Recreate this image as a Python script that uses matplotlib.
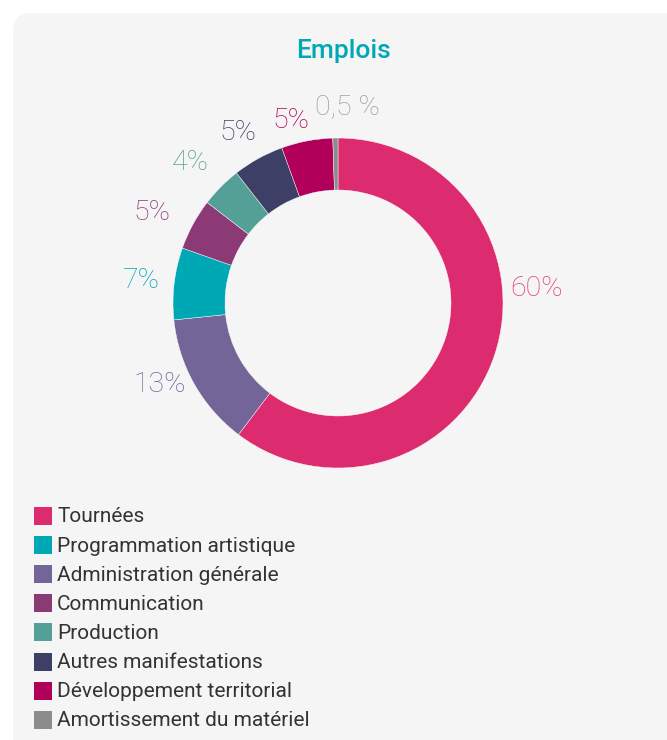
import matplotlib
matplotlib.use('Agg')
import matplotlib.pyplot as plt
from matplotlib.patches import FancyBboxPatch, Rectangle

plt.rcParams['font.family'] = ['Roboto', 'DejaVu Sans']

# wedge order (clockwise from the top)
wedge_names = ['Tournées', 'Administration générale', 'Programmation artistique',
               'Communication', 'Production', 'Autres manifestations',
               'Développement territorial', 'Amortissement du matériel']
wedge_values = [60, 13, 7, 5, 4, 5, 5, 0.5]
wedge_labels = ['60%', '13%', '7%', '5%', '4%', '5%', '5%', '0,5 %']

# legend order
legend_names = ['Tournées', 'Programmation artistique', 'Administration générale',
                'Communication', 'Production', 'Autres manifestations',
                'Développement territorial', 'Amortissement du matériel']

colors = {
    'Tournées': '#dc2b6e',
    'Programmation artistique': '#00a8b6',
    'Administration générale': '#736597',
    'Communication': '#8b3a76',
    'Production': '#55a096',
    'Autres manifestations': '#3e3f66',
    'Développement territorial': '#b0005a',
    'Amortissement du matériel': '#8c8c8c',
}
label_colors = {
    'Tournées': '#e0407a',
    'Amortissement du matériel': '#a0a0a0',
}

W, H = 667, 740
fig = plt.figure(figsize=(W / 100, H / 100), dpi=100)
ax = fig.add_axes([0, 0, 1, 1])

def Y(py):
    return H - py

# panel
ax.add_patch(FancyBboxPatch((13, -30), 700, Y(13) + 30,
                            boxstyle='round,pad=0,rounding_size=18',
                            facecolor='#f5f5f5', edgecolor='none'))

# donut
cx, cy, r_out, r_in = 338, 303, 165, 113
ax.pie(wedge_values, colors=[colors[n] for n in wedge_names],
       startangle=90, counterclock=False, center=(cx, Y(cy)), radius=r_out,
       wedgeprops=dict(width=r_out - r_in, edgecolor='white', linewidth=0.3))

# value labels
label_pos = [(537, 288), (160, 385), (141, 280), (152, 212),
             (190, 163), (238, 133), (291, 120), (347, 107)]
for name, lab, (px, py) in zip(wedge_names, wedge_labels, label_pos):
    ax.text(px, Y(py), lab, ha='center', va='center', fontsize=20.5,
            fontweight='light', color=label_colors.get(name, colors[name]))

ax.text(343, Y(51), 'Emplois', ha='center', va='center', fontsize=19,
        fontweight='medium', color='#00a8b6')

# legend
for i, name in enumerate(legend_names):
    py = 516 + i * 29.1
    ax.add_patch(Rectangle((34, Y(py) - 9), 18, 18, facecolor=colors[name],
                           edgecolor='none'))
    ax.text(57, Y(py) - 1, name, ha='left', va='center', fontsize=15,
            fontweight='normal', color='#333333')

ax.set_xlim(0, W)
ax.set_ylim(0, H)
ax.set_aspect('auto')
ax.axis('off')

fig.savefig('out.png', dpi=100, facecolor='white')
